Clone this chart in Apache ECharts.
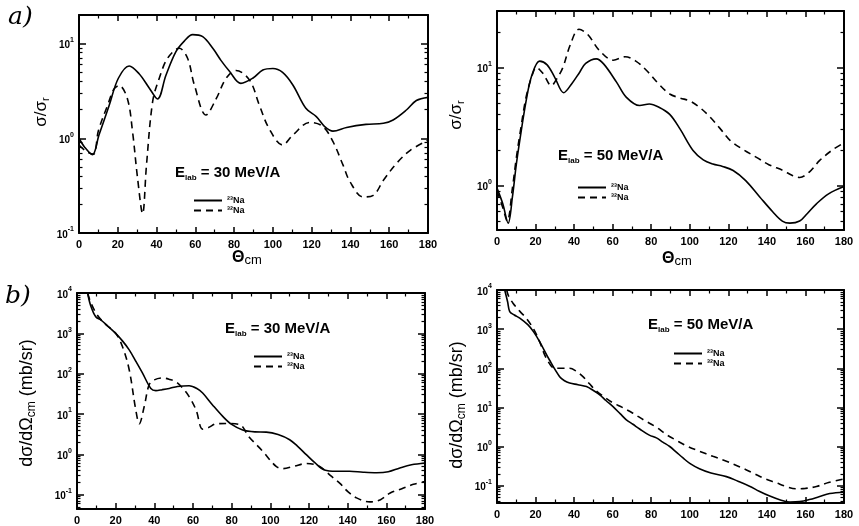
<!DOCTYPE html>
<html><head><meta charset="utf-8">
<script src="https://cdn.jsdelivr.net/npm/echarts@6/dist/echarts.min.js"></script>
<style>html,body{margin:0;padding:0;background:#fff}#c{width:859px;height:526px}</style>
</head><body><div id="c"></div>
<script>
// ---- data (angles in degrees) ----
const name23 = '²³Na', name32 = '³²Na';
const xTickStep = 20;

// a) 30 MeV/A  sigma/sigma_R
const tA30_23 = [0,3,6.9,10.3,15.5,20.3,25.9,31,36.2,40.5,44.8,50,54.3,58.6,63.8,69,73.3,77.6,83.5,89.6,94.8,100,105,110.3,117,122.4,126.7,131,138,148,157,162,169,174,180];
const rA30_23 = [1.0,0.8,0.67,1.08,2.2,4.3,5.8,4.8,3.4,2.6,4.6,8.2,10.6,12.4,11.8,8.9,6.6,5.1,3.8,4.3,5.25,5.45,4.95,3.65,2.07,1.69,1.33,1.19,1.3,1.4,1.44,1.56,2.0,2.5,2.7];
const tA30_32 = [0,4,7.5,10,15,18,20.7,25,27.6,30.2,32.8,34.8,38,41.4,45.7,51.7,56,59.5,65.5,70.7,75.9,81,88,93,98,105,110.3,119,125.8,131,136.2,139.7,146.5,151.8,157,164,171,180];
const rA30_32 = [0.85,0.72,0.68,1.2,2.3,3.3,3.6,2.6,1.18,0.38,0.16,0.52,2.45,4.3,7.0,8.9,7.0,3.65,1.76,2.6,4.3,5.2,4.1,2.24,1.27,0.85,1.08,1.47,1.33,0.92,0.52,0.35,0.24,0.25,0.36,0.55,0.75,0.95];

// a) 50 MeV/A  sigma/sigma_R
const tA50_23 = [0,3,5.8,8,10,11.8,15.2,18,22.1,26,30,34.6,38.6,42.9,46,51.5,55.3,62,67,74,79,84,89.6,95,101.7,107,112,117,122.5,129,136.3,143,148,151.9,157,161,165.7,172,180];
const rA50_23 = [0.95,0.7,0.48,0.8,1.5,2.4,5.3,8.5,11.3,10.5,8.2,6.1,7.2,9.1,10.8,11.8,10.7,7.5,5.6,4.75,4.9,4.6,4.0,3.0,1.98,1.65,1.52,1.45,1.34,1.1,0.8,0.6,0.5,0.48,0.5,0.58,0.7,0.85,0.98];
const tA50_32 = [0,3,5.3,8,10,12,15,18,20.4,24,28.2,31,34.2,38,42.5,47,53.3,60.3,66.4,72,77.6,84,89.6,95,100,105,110.5,116,121,128,134.6,141,148.4,153,157,162,167.4,174,180];
const rA50_32 = [0.9,0.65,0.5,0.95,1.7,2.8,5.5,8.3,10,8.8,7.0,8.0,10,15.5,21,19,13.8,11.5,12.3,11.3,9.4,7.2,5.95,5.5,5.2,4.6,3.8,3.0,2.4,2.0,1.73,1.5,1.34,1.22,1.17,1.3,1.63,2.0,2.3];

// b) 30 MeV/A  dsigma/dOmega (mb/sr)
const tB30_23 = [5.5,7,9.7,12.3,16,20,23.5,27,30.5,33.9,38.2,40.8,44,47.7,52,58,62,65,70,75.4,80,85.7,92,97.9,104,110,114,118.6,123,128,134,141,148,155,161,167,173,180];
const sB30_23 = [10000,5000,2570,2150,1500,1000,650,390,200,103,43,38,40,43,48,50,43,33,17,8.7,5.5,4.0,3.6,3.55,3.1,2.3,1.6,0.98,0.62,0.41,0.38,0.38,0.36,0.35,0.37,0.46,0.55,0.61];
const tB30_32 = [5.5,7,10,14,20,23.5,27,30.4,32.2,34.8,37.3,40,44.3,48,51.2,55,58,61.6,65,68,72,78,84,89,96,103,106.5,112,118.6,125.5,131,136,140,144.6,151.5,157,162,168,174,180];
const sB30_32 = [10000,6000,3100,1800,1000,470,125,12.6,5.7,15.5,53,70,78,72,63,42,27,12.5,4.2,4.6,5.7,5.8,5.5,2.7,1.2,0.5,0.44,0.5,0.59,0.5,0.3,0.19,0.12,0.083,0.066,0.075,0.11,0.14,0.18,0.21];

// b) 50 MeV/A  dsigma/dOmega (mb/sr)
const tB50_23 = [4,5.5,6.6,9,11.8,16.1,19,22.1,27.3,32.5,35,37.7,42,46.4,50,53.3,56.5,60.2,64,67.1,70.5,74,79,82.7,86,89.6,93,96.5,100,105,111,119,125,131,136,141.5,147,152,157,162,167,172.6,180];
const sB50_23 = [10000,5000,2800,2300,1900,1280,850,480,160,61,48,42,38,34,27,21,15,10.5,6.8,4.8,3.7,2.8,1.95,1.66,1.3,1.0,0.72,0.51,0.37,0.27,0.21,0.17,0.13,0.097,0.072,0.054,0.043,0.038,0.039,0.044,0.052,0.063,0.068];
const tB50_32 = [5,6,8.3,12,15.2,19,22.1,25.6,30,34,37.7,41,44.6,48,51.6,56,60.2,65,70.5,76,82.7,88,93,99,105,112,119,126,132.8,139,145,150,155,160,165.7,172,180];
const sB50_32 = [10000,7000,4600,2800,1900,1000,480,180,100,100,100,85,61,40,26,18,13,10,7.1,4.8,3.1,2.0,1.44,1.0,0.76,0.56,0.42,0.3,0.21,0.15,0.117,0.095,0.083,0.085,0.095,0.12,0.148];

// ---- layout ----
const panels = [
  {grid:{left:79, top:15, width:349, height:218}, yr:[0.1,20], s23:[tA30_23,rA30_23], s32:[tA30_32,rA30_32],
   legend:{left:193, top:196}},
  {grid:{left:497, top:11, width:347, height:219}, yr:[0.42,30], s23:[tA50_23,rA50_23], s32:[tA50_32,rA50_32],
   legend:{left:577, top:183}},
  {grid:{left:77, top:293, width:348, height:216}, yr:[0.044,10000], s23:[tB30_23,sB30_23], s32:[tB30_32,sB30_32],
   legend:{left:253, top:352}},
  {grid:{left:497, top:290, width:347, height:213}, yr:[0.036,10000], s23:[tB50_23,sB50_23], s32:[tB50_32,sB50_32],
   legend:{left:673, top:349}}
];

const FONT = 'Liberation Sans';
const black = '#000';
function zip(a,b){ return a.map((x,i)=>[x,b[i]]); }
function majors(r){ const out=[]; for(let e=Math.ceil(Math.log10(r[0])-1e-9); e<=Math.floor(Math.log10(r[1])+1e-9); e++) out.push(Math.pow(10,e)); return out; }
function minors(r){ const out=[]; for(let e=Math.floor(Math.log10(r[0]))-1; e<=Math.ceil(Math.log10(r[1])); e++){ for(let k=2;k<=9;k++){ const v=k*Math.pow(10,e); if(v>r[0]*1.0001 && v<r[1]*0.9999) out.push(v);} } return out; }
function powLabel(v){ const e=Math.round(Math.log10(v)); return '{b|10}{s|'+(e<0?'-':'')+Math.abs(e)+'}'; }
function axisLineOn(){ return {show:true, onZero:false, lineStyle:{color:black, width:2}}; }
function tick(len, w, vals){ const t={show:true, inside:true, length:len, lineStyle:{color:black, width:w}}; if(vals) t.customValues=vals.slice(); return t; }

const N = panels.length;
const grids=[], xAxes=[], yAxes=[], series=[], legends=[];
// main grids (0..N-1): frame, major ticks, labels, curves
panels.forEach((p,i)=>{
  grids.push({left:p.grid.left, top:p.grid.top, width:p.grid.width, height:p.grid.height});
  ['bottom','top'].forEach(pos=>{
    xAxes.push({gridIndex:i, type:'value', min:0, max:180, interval:xTickStep, position:pos,
      splitLine:{show:false}, axisLine:axisLineOn(), axisTick:tick(6,1.5),
      minorTick:{show:true, splitNumber:2, length:3.5, lineStyle:{color:black, width:1.2}},
      axisLabel: pos==='bottom' ? {show:true, color:black, fontSize:11, fontWeight:'bold', fontFamily:FONT, margin:6} : {show:false}});
  });
  const mj = majors(p.yr);
  ['left','right'].forEach(pos=>{
    yAxes.push({gridIndex:i, type:'log', logBase:10, min:p.yr[0], max:p.yr[1], position:pos, splitLine:{show:false},
      axisLine:axisLineOn(), axisTick:tick(7,1.5,mj),
      axisLabel: pos==='left' ? {show:true, customValues:mj.slice(), formatter:powLabel, margin:5,
        rich:{b:{fontSize:10, fontWeight:'bold', fontFamily:FONT, color:black, lineHeight:14, verticalAlign:'bottom'},
              s:{fontSize:7, fontWeight:'bold', fontFamily:FONT, color:black, lineHeight:14, verticalAlign:'top'}}} : {show:false}});
  });
  const base = {type:'line', xAxisIndex:2*i, yAxisIndex:2*i, symbol:'none', smooth:0.35, clip:true, animation:false, itemStyle:{color:black}};
  series.push(Object.assign({}, base, {name:name23, data:zip(p.s23[0],p.s23[1]), lineStyle:{color:black, width:1.6, type:'solid'}}));
  series.push(Object.assign({}, base, {name:name32, data:zip(p.s32[0],p.s32[1]), lineStyle:{color:black, width:1.6, type:[7,5]}}));
  legends.push({data:[name23,name32], orient:'vertical', left:p.legend.left, top:p.legend.top, itemWidth:28, itemHeight:10, itemGap:1,
    selectedMode:false, padding:0, itemStyle:{opacity:0, borderWidth:0},
    textStyle:{fontSize:9, fontWeight:'bold', color:black, fontFamily:FONT}});
});
// overlay grids (N..2N-1): log minor ticks on left and right
panels.forEach((p,i)=>{
  const g = N + i;
  grids.push({left:p.grid.left, top:p.grid.top, width:p.grid.width, height:p.grid.height});
  xAxes.push({gridIndex:g, type:'value', min:0, max:180, show:false});
  const mn = minors(p.yr);
  ['left','right'].forEach(pos=>{
    yAxes.push({gridIndex:g, type:'log', logBase:10, min:p.yr[0], max:p.yr[1], position:pos, splitLine:{show:false},
      axisLine:{show:false}, axisTick:tick(3.5,1.2,mn), axisLabel:{show:false}});
  });
});

function elab(x,y,txt){
  return {type:'text', left:x, top:y-10, style:{text:'{m|E}{s|lab}{m| = '+txt+'}',
    rich:{m:{fontSize:15, fontWeight:'bold', fontFamily:FONT, fill:black, lineHeight:19, verticalAlign:'middle'},
          s:{fontSize:8, fontWeight:'bold', fontFamily:FONT, fill:black, lineHeight:10, verticalAlign:'bottom'}}}};
}
function theta(cx,cy){
  return {type:'text', x:cx, y:cy, style:{text:'{m|Θ}{s|cm}', align:'center', verticalAlign:'middle',
    rich:{m:{fontSize:16, fontWeight:'bold', fontFamily:FONT, fill:black, lineHeight:18, verticalAlign:'middle'},
          s:{fontSize:13, fontFamily:FONT, fill:black, lineHeight:12, verticalAlign:'bottom'}}}};
}
function ytitle(cx,cy,parts,fs){
  return {type:'text', x:cx, y:cy, rotation:Math.PI/2, style:{text:parts, align:'center', verticalAlign:'middle',
    rich:{m:{fontSize:fs, fontFamily:FONT, fill:black, lineHeight:fs+4, verticalAlign:'middle'},
          s:{fontSize:Math.round(fs*0.65), fontFamily:FONT, fill:black, lineHeight:11, verticalAlign:'bottom'}}}};
}
const graphics = [
  {type:'text', x:8, y:17, style:{text:'a)', fontSize:25, fontFamily:'DejaVu Serif', fontStyle:'italic', fill:black, verticalAlign:'middle'}},
  {type:'text', x:5, y:296, style:{text:'b)', fontSize:25, fontFamily:'DejaVu Serif', fontStyle:'italic', fill:black, verticalAlign:'middle'}},
  elab(175,175,'30 MeV/A'), elab(558,158,'50 MeV/A'), elab(225,331,'30 MeV/A'), elab(648,327,'50 MeV/A'),
  theta(247,258), theta(677,259),
  ytitle(41,112,'{m|σ/σ}{s|r}',17), ytitle(456,115,'{m|σ/σ}{s|r}',17),
  ytitle(27,403,'{m|dσ/dΩ}{s|cm}{m| (mb/sr)}',18), ytitle(457,405,'{m|dσ/dΩ}{s|cm}{m| (mb/sr)}',18)
];

const chart = echarts.init(document.getElementById('c'), null, {renderer:'canvas'});
chart.setOption({animation:false, backgroundColor:'#fff', grid:grids, xAxis:xAxes, yAxis:yAxes, series:series, legend:legends, graphic:graphics});
</script></body></html>
